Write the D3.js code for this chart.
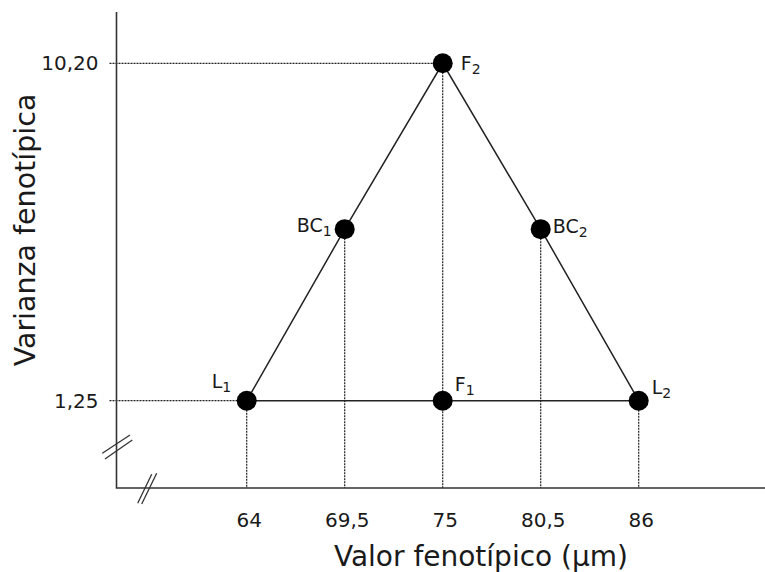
<!DOCTYPE html>
<meta charset="utf-8">
<style>
body { margin: 0; background: #fff; }
text { font-family: "DejaVu Sans", sans-serif; fill: #1a1a1a; }
.frame { stroke: #333; stroke-width: 1.6px; fill: none; }
.tri { stroke: #222; stroke-width: 1.5px; fill: none; }
.guide { stroke: #222; stroke-width: 1.2px; stroke-dasharray: 2,1; fill: none; }
</style>
<body>
<script src="https://d3js.org/d3.v7.min.js"></script>
<script>
// data
var names = ["L", "BC", "F", "BC", "L", "F"];
var subs = ["1", "1", "2", "2", "2", "1"];
var valores = [64, 69.5, 75, 80.5, 86, 75];
var varianzas = [1.25, 5.8, 10.20, 5.8, 1.25, 1.25];
var xTicks = [64, 69.5, 75, 80.5, 86];
var xTickLabels = ["64", "69,5", "75", "80,5", "86"];
var yTicks = [1.25, 10.20];
var yTickLabels = ["1,25", "10,20"];

var width = 765, height = 572;
var axisX = 116.5, axisY = 488;

var svg = d3.select("body").append("svg")
    .attr("width", width)
    .attr("height", height);

var x = d3.scaleLinear().domain([64, 86]).range([246.7, 638.7]);
var y = d3.scaleLinear().domain([1.25, 10.20]).range([400.7, 63.3]);

var pts = valores.map(function(v, i) {
  return {name: names[i], sub: subs[i], x: v, y: varianzas[i]};
});

// dotted guides (horizontal from y axis, vertical down to x axis)
yTicks.forEach(function(t) {
  var p = pts.find(function(d) { return d.y === t; });
  svg.append("line").attr("class", "guide")
      .attr("x1", axisX - 7).attr("x2", x(p.x))
      .attr("y1", y(t)).attr("y2", y(t));
});
xTicks.forEach(function(t) {
  var p = pts.find(function(d) { return d.x === t; });
  svg.append("line").attr("class", "guide")
      .attr("x1", x(t)).attr("x2", x(t))
      .attr("y1", y(p.y)).attr("y2", axisY);
});

// axis frame
svg.append("path").attr("class", "frame")
    .attr("d", "M" + axisX + ",12V" + axisY + "H" + width);

// axis breaks
var brk = svg.append("g").attr("class", "frame").style("stroke-width", "1.3px");
brk.append("line").attr("x1", 102.3).attr("y1", 453.3).attr("x2", 130).attr("y2", 435);
brk.append("line").attr("x1", 105).attr("y1", 459).attr("x2", 132.3).attr("y2", 440);
brk.append("line").attr("x1", 137.7).attr("y1", 503.3).attr("x2", 151.7).attr("y2", 474.3);
brk.append("line").attr("x1", 141.7).attr("y1", 504).attr("x2", 156.7).attr("y2", 473.3);

// x tick labels
var xAxis = svg.append("g")
    .attr("transform", "translate(2," + (axisY + 22) + ")")
    .call(d3.axisBottom(x).tickValues(xTicks).tickSize(0)
      .tickFormat(function(d, i) { return xTickLabels[i]; }));
xAxis.select(".domain").remove();
xAxis.selectAll("text").attr("font-size", "20px")
    .attr("font-family", "DejaVu Sans").attr("fill", "#1a1a1a");

// y tick labels
var yAxis = svg.append("g")
    .attr("transform", "translate(" + (axisX - 15) + ",0)")
    .call(d3.axisLeft(y).tickValues(yTicks).tickSize(0)
      .tickFormat(function(d, i) { return yTickLabels[i]; }));
yAxis.select(".domain").remove();
yAxis.selectAll("text").attr("font-size", "20px")
    .attr("font-family", "DejaVu Sans").attr("fill", "#1a1a1a");

// triangle and base line
var line = d3.line().x(function(d) { return x(d.x); }).y(function(d) { return y(d.y); });
svg.append("path").attr("class", "tri").attr("d", line(pts.slice(0, 5)));
svg.append("path").attr("class", "tri").attr("d", line([pts[0], pts[5], pts[4]]));

// points
svg.selectAll("circle").data(pts).enter().append("circle")
    .attr("cx", function(d) { return x(d.x); })
    .attr("cy", function(d) { return y(d.y); })
    .attr("r", 10)
    .attr("fill", "#000");

// point labels: offsets relative to each point
var offs = [[-35, -13, "start"], [-13, 3, "end"], [18, 7, "start"],
            [12, 4, "start"], [13, -7, "start"], [12, -10, "start"]];
pts.forEach(function(d, i) {
  var t = svg.append("text")
      .attr("x", x(d.x) + offs[i][0])
      .attr("y", y(d.y) + offs[i][1])
      .attr("text-anchor", offs[i][2])
      .attr("font-size", "19px");
  t.append("tspan").text(d.name);
  t.append("tspan").attr("dy", 4).attr("font-size", "14px").text(d.sub);
});

// axis titles
svg.append("text")
    .attr("x", 481).attr("y", 566)
    .attr("text-anchor", "middle")
    .attr("font-size", "28px")
    .text("Valor fenotípico (µm)");

svg.append("text")
    .attr("transform", "translate(35,230) rotate(-90)")
    .attr("text-anchor", "middle")
    .attr("font-size", "28.5px")
    .text("Varianza fenotípica");
</script>
</body>
